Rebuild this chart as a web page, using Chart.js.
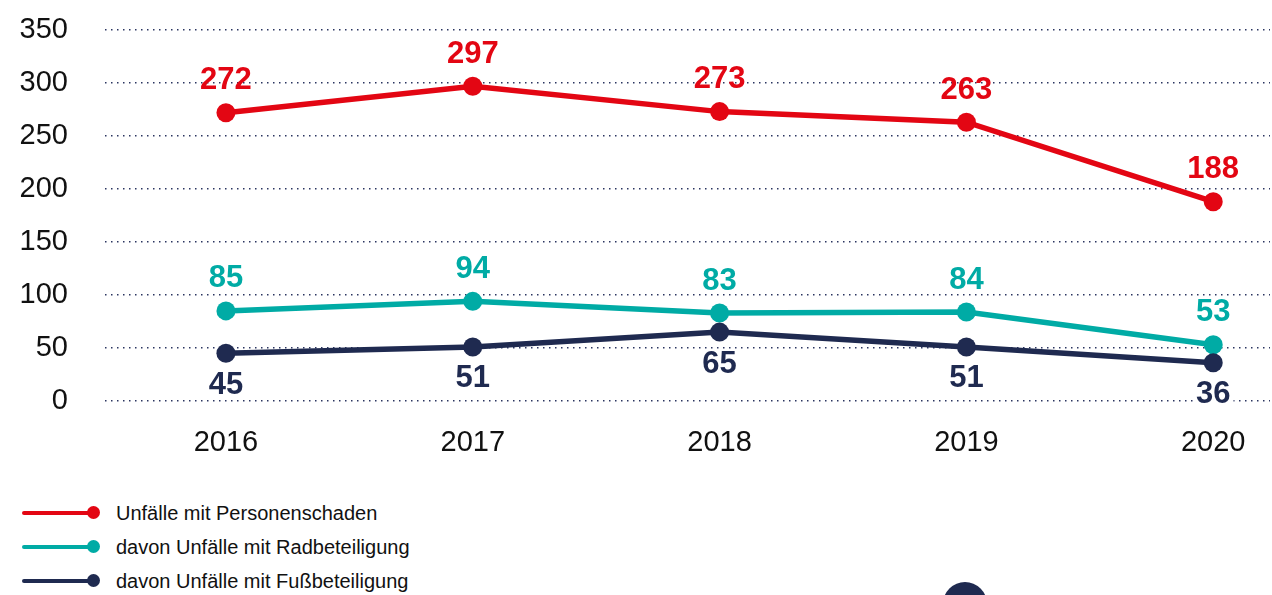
<!DOCTYPE html>
<html lang="de">
<head>
<meta charset="utf-8">
<script src="https://cdn.jsdelivr.net/npm/chart.js@4/dist/chart.umd.min.js"></script>
<style>
  body { margin: 0; background: #fff; width: 1272px; height: 595px; overflow: hidden; position: relative; font-family: "Liberation Sans", Arial, sans-serif; }
  #wrap { position: absolute; left: 0; top: 0; width: 1272px; height: 480px; }
  .row { position: absolute; left: 22px; height: 20px; }
  .row .ln { position: absolute; left: 0; top: 8px; width: 72px; height: 4px; border-radius: 2px; }
  .row .dot { position: absolute; left: 65px; top: 3px; width: 13px; height: 13px; border-radius: 50%; }
  .row .txt { position: absolute; left: 94px; top: -1px; white-space: nowrap; font-size: 20px; line-height: 22px; color: #111; }
  #deco { position: absolute; left: 943px; top: 582px; width: 44px; height: 44px; border-radius: 50%; background: #1f2a50; }
</style>
</head>
<body>
<div id="wrap"><canvas id="chart" width="1272" height="480"></canvas></div>
<div id="legend"></div>
<div id="deco"></div>
<script>
const years = [2016, 2017, 2018, 2019, 2020];
const personenschaden = [272, 297, 273, 263, 188];
const radbeteiligung = [85, 94, 83, 84, 53];
const fussbeteiligung = [45, 51, 65, 51, 36];
const yTicks = [0, 50, 100, 150, 200, 250, 300, 350];

const RED = "#e30613";
const TEAL = "#00aba5";
const NAVY = "#1f2a50";

const series = [
  { label: "Unfälle mit Personenschaden", values: personenschaden, color: RED, below: false },
  { label: "davon Unfälle mit Radbeteiligung", values: radbeteiligung, color: TEAL, below: false },
  { label: "davon Unfälle mit Fußbeteiligung", values: fussbeteiligung, color: NAVY, below: true }
];

// html legend, one entry per row
const legendEl = document.getElementById("legend");
series.forEach((s, i) => {
  const row = document.createElement("div");
  row.className = "row";
  row.style.top = (503 + i * 34) + "px";
  row.innerHTML = `<div class="ln" style="background:${s.color}"></div>` +
    `<div class="dot" style="background:${s.color}"></div>` +
    `<div class="txt">${s.label}</div>`;
  legendEl.appendChild(row);
});

// value labels above / below the points
const valueLabels = {
  id: "valueLabels",
  afterDatasetsDraw(chart) {
    const ctx = chart.ctx;
    ctx.save();
    ctx.font = "bold 31px 'Liberation Sans', Arial, sans-serif";
    ctx.textAlign = "center";
    ctx.textBaseline = "middle";
    chart.data.datasets.forEach((ds, di) => {
      const meta = chart.getDatasetMeta(di);
      const s = series[ds.seriesIndex];
      meta.data.forEach((pt, i) => {
        const txt = String(s.values[i]);
        const y = s.below ? pt.y + 32 : pt.y - 32;
        if (s.below) {
          const w = ctx.measureText(txt).width;
          ctx.fillStyle = "#fff";
          ctx.fillRect(pt.x - w / 2 - 3, y - 13, w + 6, 26);
        }
        ctx.fillStyle = s.color;
        ctx.fillText(txt, pt.x, y);
      });
    });
    ctx.restore();
  }
};

const datasets = series.map((s, idx) => ({
  label: s.label,
  seriesIndex: idx,
  data: years.map((yr, i) => ({ x: yr, y: s.values[i] })),
  borderColor: s.color,
  backgroundColor: s.color,
  borderWidth: 5.5,
  pointRadius: 9.5,
  pointBorderWidth: 0,
  pointBackgroundColor: s.color,
  tension: 0,
  clip: false,
  order: 2 - idx
}));

new Chart(document.getElementById("chart").getContext("2d"), {
  type: "line",
  data: { datasets },
  plugins: [valueLabels],
  options: {
    responsive: false,
    animation: false,
    events: [],
    layout: { autoPadding: false, padding: { top: 30, right: 2, left: 0, bottom: 0 } },
    plugins: {
      legend: { display: false },
      tooltip: { enabled: false }
    },
    scales: {
      x: {
        type: "linear",
        min: 2015.51,
        max: 2020.23,
        afterBuildTicks: (scale) => { scale.ticks = years.map(v => ({ value: v })); },
        afterFit: (scale) => { scale.height = 79; },
        grid: {
          drawOnChartArea: false,
          drawTicks: true,
          tickLength: 25,
          tickColor: "rgba(0,0,0,0)",
          color: "rgba(0,0,0,0)"
        },
        border: { display: false },
        ticks: {
          padding: 0,
          color: "#111",
          font: { size: 29, family: "'Liberation Sans', Arial, sans-serif" },
          callback: (v) => String(v)
        }
      },
      y: {
        min: 0,
        max: 350,
        afterBuildTicks: (scale) => { scale.ticks = yTicks.map(v => ({ value: v })); },
        afterFit: (scale) => { scale.width = 105; },
        border: { display: false, dash: [1.5, 4.5] },
        grid: {
          drawTicks: true,
          tickLength: 37,
          tickColor: "rgba(0,0,0,0)",
          color: "#2b3560",
          lineWidth: 1.5
        },
        ticks: {
          padding: 0,
          color: "#111",
          font: { size: 29, family: "'Liberation Sans', Arial, sans-serif" }
        }
      }
    }
  }
});
</script>
</body>
</html>
